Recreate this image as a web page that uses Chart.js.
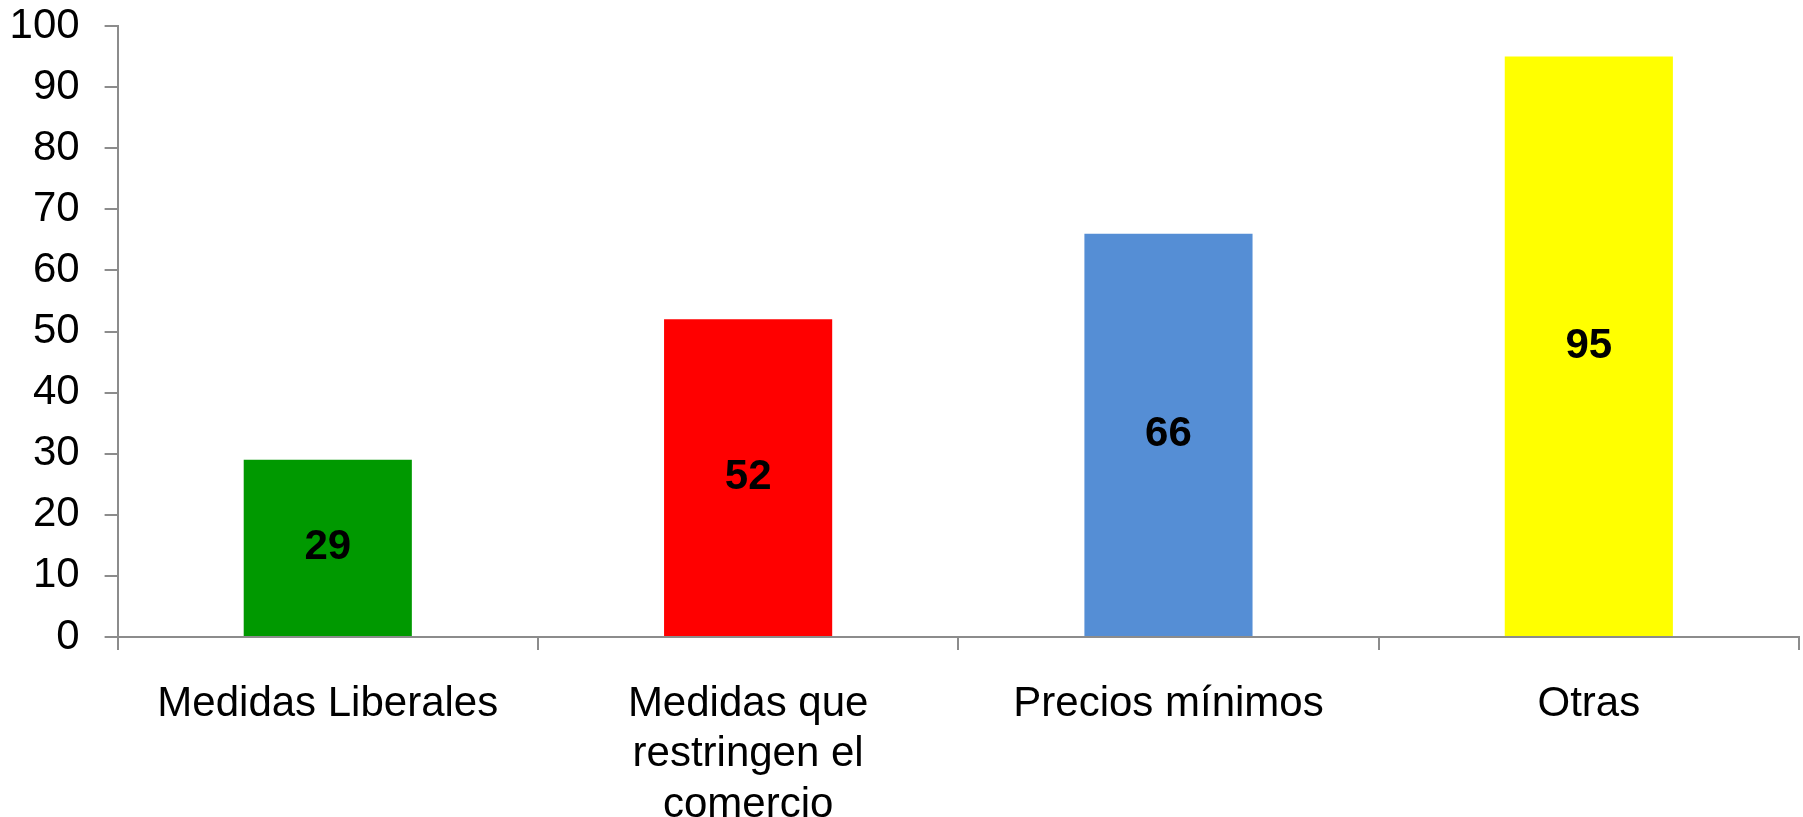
<!DOCTYPE html>
<html>
<head>
<meta charset="utf-8">
<script src="https://cdn.jsdelivr.net/npm/chart.js@4"></script>
<style>
  html, body { margin: 0; padding: 0; background: #ffffff; overflow: hidden; }
  #wrap { position: relative; width: 1803px; height: 817px; }
</style>
</head>
<body>
<div id="wrap"><canvas id="c"></canvas></div>
<script>
// ---- data ----
const categories = ["Medidas Liberales", ["Medidas que", "restringen el", "comercio"], "Precios mínimos", "Otras"];
const values = [29, 52, 66, 95];
const barColors = ["#009900", "#FF0000", "#558ED5", "#FFFF00"];
const yMin = 0;
const yMax = 100;
const yStep = 10;

const AXIS = "#8c8c8c";
const FONT = "'Liberation Sans', Arial, sans-serif";

const valueLabels = {
  id: "valueLabels",
  afterDatasetsDraw(chart) {
    const ctx = chart.ctx;
    const meta = chart.getDatasetMeta(0);
    ctx.save();
    ctx.font = "bold 42px " + FONT;
    ctx.fillStyle = "#000000";
    ctx.textAlign = "center";
    ctx.textBaseline = "middle";
    meta.data.forEach((el, i) => {
      const y = (el.y + el.base) / 2;
      ctx.fillText(String(chart.data.datasets[0].data[i]), el.x, y);
    });
    ctx.restore();
  }
};

new Chart(document.getElementById("c"), {
  type: "bar",
  data: {
    labels: categories,
    datasets: [{
      data: values,
      backgroundColor: barColors,
      borderWidth: 0,
      categoryPercentage: 1.0,
      barPercentage: 0.4
    }]
  },
  options: {
    responsive: true,
    maintainAspectRatio: false,
    devicePixelRatio: 1,
    animation: false,
    layout: { padding: { top: 26, right: 4, left: 0, bottom: 0 } },
    plugins: { legend: { display: false }, tooltip: { enabled: false } },
    scales: {
      x: {
        offset: true,
        grid: { offset: true, drawOnChartArea: false, color: AXIS, lineWidth: 2, tickLength: 13, tickColor: AXIS },
        border: { color: AXIS, width: 2 },
        ticks: {
          color: "#000000",
          font: { family: FONT, size: 42, lineHeight: 1.2 },
          padding: 29,
          maxRotation: 0,
          minRotation: 0,
          autoSkip: false
        },
        afterFit(scale) { scale.height = 180; }
      },
      y: {
        min: yMin,
        max: yMax,
        grid: { drawOnChartArea: false, color: AXIS, lineWidth: 2, tickLength: 13, tickColor: AXIS },
        border: { color: AXIS, width: 2 },
        ticks: {
          stepSize: yStep,
          color: "#000000",
          font: { family: FONT, size: 42 },
          padding: 25
        },
        afterFit(scale) {
          scale.width = 117.6;
          scale.paddingTop = 0;
          scale.paddingBottom = 0;
        }
      }
    }
  },
  plugins: [valueLabels]
});
</script>
</body>
</html>
